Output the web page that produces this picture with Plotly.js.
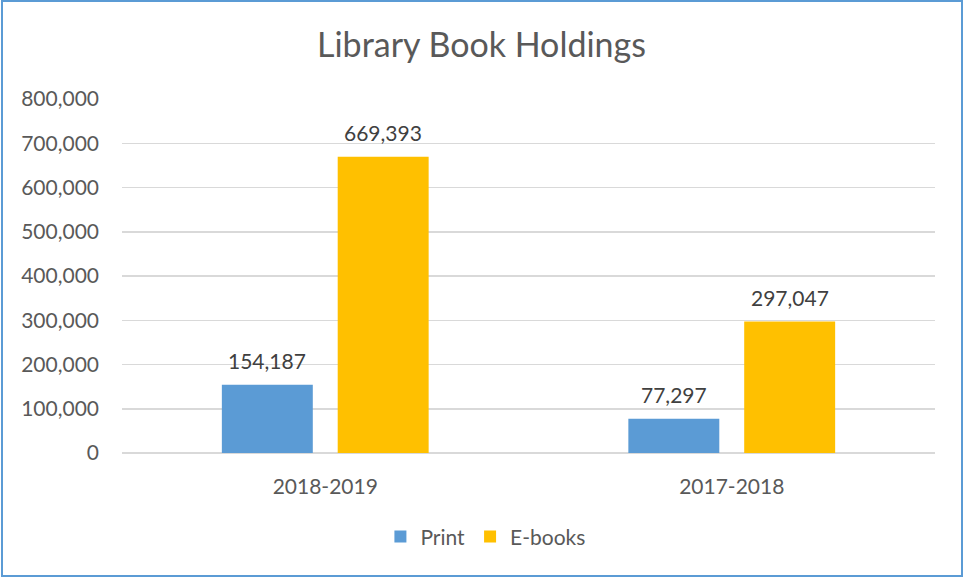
<!DOCTYPE html>
<html>
<head>
<meta charset="utf-8">
<script src="https://cdn.plot.ly/plotly-3.0.1.min.js"></script>
<style>
html,body{margin:0;padding:0;background:#fff;}
#wrap{position:relative;width:963px;height:577px;}
#chart{width:963px;height:577px;}
#frame{position:absolute;left:1px;top:0px;width:958px;height:573px;border:2px solid #5B9BD5;pointer-events:none;box-sizing:content-box;}
</style>
</head>
<body>
<div id="wrap"><div id="chart"></div><div id="frame"></div></div>
<script>
const categories = ["2018-2019", "2017-2018"];
const printValues = [154187, 77297];
const ebookValues = [669393, 297047];
const seriesNames = ["Print", "E-books"];
const yTickValues = [0, 100000, 200000, 300000, 400000, 500000, 600000, 700000, 800000];

const fontFam = "Lato, Open Sans, sans-serif";
const fmt = v => v.toLocaleString("en-US");
const bargap = 0.43;
const groupOffset = (1 - bargap) / 4;

const traces = [
  {
    type: "bar", name: seriesNames[0], x: categories, y: printValues,
    marker: {color: "#5B9BD5"}, hoverinfo: "none"
  },
  {
    type: "bar", name: seriesNames[1], x: categories, y: ebookValues,
    marker: {color: "#FFC000"}, hoverinfo: "none"
  }
];

const annotations = [];
[printValues, ebookValues].forEach((vals, si) => {
  vals.forEach((v, ci) => {
    annotations.push({
      xref: "x", yref: "y", x: ci + (si === 0 ? -groupOffset : groupOffset), y: v,
      text: fmt(v), showarrow: false, xanchor: "center", yanchor: "bottom", yshift: 10,
      font: {family: fontFam, size: 21, color: "#404040"}
    });
  });
});

const layout = {
  width: 963, height: 577,
  margin: {l: 122, r: 28, t: 99, b: 124},
  paper_bgcolor: "#fff", plot_bgcolor: "#fff",
  title: {text: "Library Book Holdings", x: 0.5, xanchor: "center", y: 0.922, yanchor: "middle",
          font: {family: fontFam, size: 34, color: "#595959"}},
  barmode: "group", bargap: bargap, bargroupgap: 0.215,
  showlegend: true,
  annotations: annotations,
  legend: {orientation: "h", x: 0.447, xanchor: "center", y: -0.237, yanchor: "middle",
           font: {family: fontFam, size: 21, color: "#595959"}, itemwidth: 30, traceorder: "normal"},
  xaxis: {
    type: "category", showgrid: false, showline: false, ticks: "",
    tickfont: {family: fontFam, size: 21, color: "#595959"},
    ticklabelstandoff: 19
  },
  yaxis: {
    range: [0, 800000], tickvals: yTickValues, ticktext: yTickValues.map(fmt),
    showgrid: true, gridcolor: "#D9D9D9", gridwidth: 1.5,
    zeroline: true, zerolinecolor: "#D9D9D9", zerolinewidth: 1.5,
    showline: false, ticks: "",
    tickfont: {family: fontFam, size: 21, color: "#595959"},
    ticklabelstandoff: 22
  }
};

Plotly.newPlot("chart", traces, layout, {displayModeBar: false, staticPlot: true});
</script>
</body>
</html>
